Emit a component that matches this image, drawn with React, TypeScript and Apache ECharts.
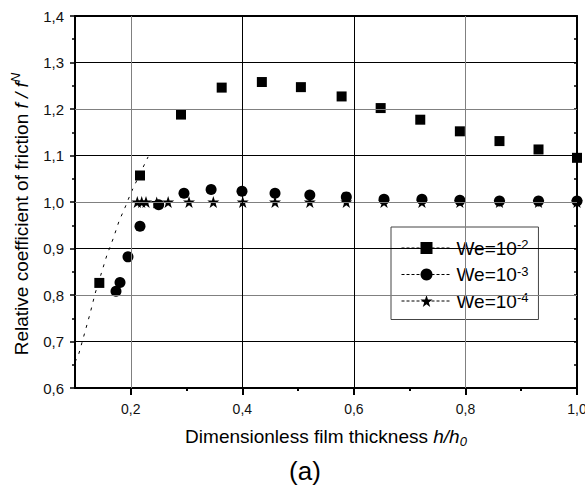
import React, { useEffect, useRef } from 'react';
import * as echarts from 'echarts';

const FONT = '"Liberation Sans", Arial, Helvetica, sans-serif';

// We = 10^-2 (squares)
const squareX = [0.1436, 0.2165, 0.290, 0.363, 0.435, 0.505, 0.578, 0.648, 0.719, 0.790, 0.861, 0.931, 1.0];
const squareY = [0.826, 1.057, 1.188, 1.246, 1.258, 1.247, 1.227, 1.202, 1.177, 1.152, 1.131, 1.113, 1.095];

// We = 10^-3 (circles)
const circleX = [0.1735, 0.1807, 0.195, 0.2165, 0.250, 0.2954, 0.344, 0.3994, 0.4586, 0.521, 0.5864, 0.654, 0.722, 0.790, 0.861, 0.931, 1.0];
const circleY = [0.808, 0.827, 0.882, 0.948, 0.994, 1.019, 1.027, 1.023, 1.019, 1.015, 1.011, 1.006, 1.006, 1.004, 1.002, 1.002, 1.002];

// We = 10^-4 (stars)
const starX = [0.2117, 0.2196, 0.2273, 0.2465, 0.267, 0.3044, 0.348, 0.4007, 0.4586, 0.521, 0.5864, 0.654, 0.722, 0.790, 0.861, 0.931, 1.0];
const starY = [1.0, 1.0, 1.0, 0.999, 1.0, 1.0, 1.0, 1.0, 1.0, 1.0, 1.0, 1.0, 1.0, 1.0, 1.0, 1.0, 1.0];

// dotted curve at low film thickness
const curveX = [0.100, 0.106, 0.114, 0.127, 0.136, 0.146, 0.157, 0.169, 0.179, 0.190, 0.200, 0.221, 0.231];
const curveY = [0.656, 0.670, 0.704, 0.760, 0.803, 0.842, 0.885, 0.923, 0.959, 0.989, 1.019, 1.072, 1.097];

const weExponents = ['-2', '-3', '-4'];
const seriesNames = weExponents.map((e) => `We=10^${e}`);

const xMajorTicks = [0.2, 0.4, 0.6, 0.8, 1.0];
const xMinorTicks = [0.3, 0.5, 0.7, 0.9];

// grid lines (value, shade)
const xGridValues = [0.2, 0.4, 0.6, 0.8];
const xGridDark = [false, true, true, false];
const yGridValues = [0.7, 0.8, 0.9, 1.0, 1.1, 1.2, 1.3];
const yGridDark = [true, false, true, false, true, false, true];

const yTitle = 'Relative coefficient of friction ';
const xTitle = 'Dimensionless film thickness ';
const caption = '(a)';

const STAR =
  'path://M50 0 L61.8 35.1 L98.9 35.1 L68.9 57.3 L80.3 92.7 L50 70.8 L19.7 92.7 L31.1 57.3 L1.1 35.1 L38.2 35.1 Z';

const zip = (xs: number[], ys: number[]) => xs.map((x, i) => [x, ys[i]]);
const comma = (v: number) => v.toFixed(1).replace('.', ',');

const GRAY = '#808080';
const DARK = '#000';

export default function App() {
  const ref = useRef<HTMLDivElement>(null);
  useEffect(() => {
    const chart = echarts.init(ref.current!, null, { renderer: 'svg' });
    const pointSeries = (name: string, symbol: string, size: number, data: number[][], z: number) => ({
      type: 'line',
      name,
      data,
      symbol,
      symbolSize: size,
      showSymbol: true,
      itemStyle: { color: '#000' },
      lineStyle: { width: 0, opacity: 0 },
      emphasis: { disabled: true },
      silent: true,
      z,
    });
    const gridLineData = [
      ...yGridValues.map((v, i) => ({
        yAxis: v,
        lineStyle: { color: yGridDark[i] ? DARK : GRAY, width: 1, type: 'solid' },
      })),
      ...xGridValues.map((v, i) => ({
        xAxis: v,
        lineStyle: { color: xGridDark[i] ? DARK : GRAY, width: 1, type: 'solid' },
      })),
    ];
    chart.setOption({
      animation: false,
      backgroundColor: '#fff',
      textStyle: { fontFamily: FONT },
      grid: { left: 75, right: 8, top: 16, bottom: 98, containLabel: false, outerBoundsMode: 'none' },
      xAxis: [
        {
          type: 'value',
          position: 'bottom',
          min: 0.1,
          max: 1.0,
          interval: 0.1,
          axisLine: { show: true, onZero: false, lineStyle: { color: '#000', width: 2 } },
          axisTick: { show: true, inside: false, length: 7, customValues: xMajorTicks, lineStyle: { color: '#000', width: 2 } },
          axisLabel: {
            show: true,
            margin: 14,
            fontSize: 14,
            fontFamily: FONT,
            color: '#111',
            customValues: xMajorTicks,
            formatter: (v: number) => (Math.round(v * 10) % 2 === 0 ? comma(v) : ''),
          },
          splitLine: { show: false },
        },
        {
          type: 'value',
          position: 'bottom',
          min: 0.1,
          max: 1.0,
          interval: 0.1,
          axisLine: { show: false, onZero: false },
          axisTick: { show: true, inside: false, length: 3, customValues: xMinorTicks, lineStyle: { color: '#000', width: 2 } },
          axisLabel: { show: false },
          splitLine: { show: false },
        },
        {
          type: 'value',
          position: 'top',
          min: 0.1,
          max: 1.0,
          interval: 0.1,
          axisLine: { show: true, onZero: false, lineStyle: { color: '#000', width: 2 } },
          axisTick: { show: false },
          axisLabel: { show: false },
          splitLine: { show: false },
        },
      ],
      yAxis: [
        {
          type: 'value',
          position: 'left',
          min: 0.6,
          max: 1.4,
          interval: 0.1,
          axisLine: { show: true, onZero: false, lineStyle: { color: '#000', width: 2 } },
          axisTick: { show: true, inside: false, length: 5, lineStyle: { color: '#000', width: 1.5 } },
          minorTick: { show: true, splitNumber: 2, length: 3, lineStyle: { color: '#000', width: 1.5 } },
          axisLabel: { margin: 11, fontSize: 15, fontFamily: FONT, color: '#111', formatter: (v: number) => comma(v) },
          splitLine: { show: false },
        },
        {
          type: 'value',
          position: 'right',
          min: 0.6,
          max: 1.4,
          interval: 0.05,
          axisLine: { show: true, onZero: false, lineStyle: { color: '#000', width: 2 } },
          axisTick: { show: true, inside: true, length: 3, lineStyle: { color: '#000', width: 1.5 } },
          axisLabel: { show: false },
          splitLine: { show: false },
        },
      ],
      legend: {
        data: seriesNames,
        orient: 'vertical',
        left: 391,
        top: 227,
        padding: [11, 10, 9, 10],
        itemGap: 7,
        itemWidth: 50,
        itemHeight: 15,
        borderColor: '#444',
        borderWidth: 1,
        backgroundColor: '#fff',
        selectedMode: false,
        lineStyle: { color: '#000', width: 1, type: [3, 2], opacity: 1 },
        formatter: (name: string) => {
          const [base, exp] = name.split('^');
          return `{b|${base}}{s|${exp}}`;
        },
        textStyle: {
          color: '#000',
          fontFamily: FONT,
          fontSize: 19,
          rich: {
            b: { fontSize: 19, fontFamily: FONT, color: '#000', lineHeight: 20 },
            s: { fontSize: 13, fontFamily: FONT, color: '#000', verticalAlign: 'top', lineHeight: 20 },
          },
        },
      },
      graphic: [
        {
          type: 'text',
          x: 21,
          y: 214,
          rotation: Math.PI / 2,
          silent: true,
          style: {
            text: `{n|${yTitle}}{i|f / f}{s|N}`,
            align: 'center',
            verticalAlign: 'middle',
            fill: '#000',
            rich: {
              n: { fontSize: 19, fontFamily: FONT, fill: '#000', lineHeight: 24 },
              i: { fontSize: 19, fontFamily: FONT, fontStyle: 'italic', fill: '#000', lineHeight: 24 },
              s: { fontSize: 13, fontFamily: FONT, fontStyle: 'italic', fill: '#000', verticalAlign: 'top', lineHeight: 24 },
            },
          },
        },
        {
          type: 'text',
          x: 326,
          y: 436,
          silent: true,
          style: {
            text: `{n|${xTitle}}{i|h/h}{u|0}`,
            align: 'center',
            verticalAlign: 'middle',
            fill: '#000',
            rich: {
              n: { fontSize: 19, fontFamily: FONT, fill: '#000', lineHeight: 24 },
              i: { fontSize: 19, fontFamily: FONT, fontStyle: 'italic', fill: '#000', lineHeight: 24 },
              u: { fontSize: 13, fontFamily: FONT, fontStyle: 'italic', fill: '#000', verticalAlign: 'bottom', lineHeight: 24 },
            },
          },
        },
        {
          type: 'text',
          x: 305,
          y: 471,
          silent: true,
          style: {
            text: caption,
            align: 'center',
            verticalAlign: 'middle',
            fontSize: 26,
            fontFamily: FONT,
            fill: '#000',
          },
        },
      ],
      series: [
        {
          type: 'line',
          name: 'curve',
          data: zip(curveX, curveY),
          symbol: 'none',
          lineStyle: { color: '#000', width: 1, type: [3, 6] },
          emphasis: { disabled: true },
          silent: true,
          clip: true,
          z: 1,
          markLine: {
            silent: true,
            symbol: ['none', 'none'],
            label: { show: false },
            emphasis: { disabled: true },
            lineStyle: { type: 'solid', width: 1 },
            data: gridLineData,
          },
        },
        pointSeries(seriesNames[0], 'rect', 10, zip(squareX, squareY), 3),
        pointSeries(seriesNames[2], STAR, 12, zip(starX, starY), 2),
        pointSeries(seriesNames[1], 'circle', 11, zip(circleX, circleY), 4),
      ],
    } as any);
    return () => chart.dispose();
  }, []);
  return <div ref={ref} style={{ position: 'fixed', left: 0, top: 0, width: 585, height: 486 }} />;
}
